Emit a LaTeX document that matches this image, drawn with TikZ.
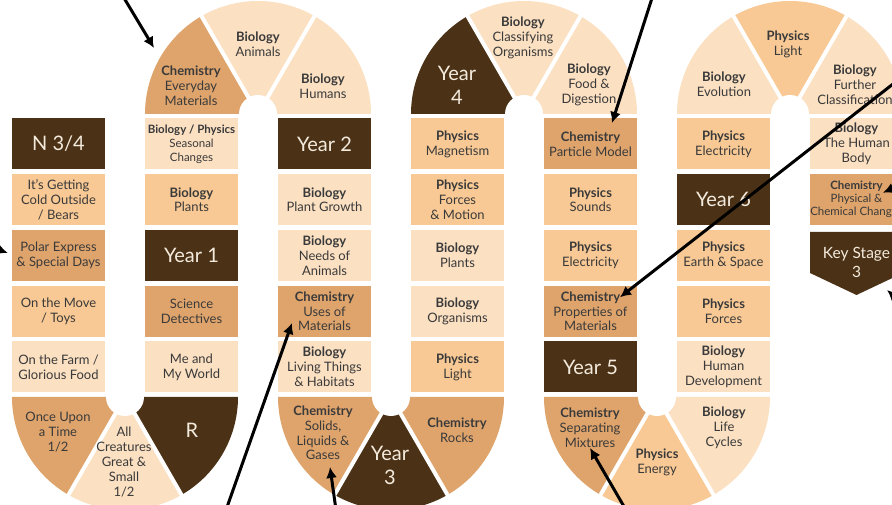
\documentclass[tikz,border=0pt]{standalone}
\usepackage{fontspec}
\setmainfont{Lato}
\usetikzlibrary{arrows.meta}

\definecolor{cdark}{HTML}{4B3217}
\definecolor{ctan}{HTML}{DFA46C}
\definecolor{cmid}{HTML}{F8C994}
\definecolor{cpale}{HTML}{FBE0C2}
\definecolor{ctext}{HTML}{3A3A3A}
\definecolor{clite}{HTML}{F4EBDD}

\begin{document}
\begin{tikzpicture}[x=1pt, y=1pt,
  box/.style={minimum width=93pt, minimum height=51pt, inner sep=0pt, align=center,
    text=ctext, font=\fontsize{13}{14.8}\selectfont},
  dk/.style={box, fill=cdark, text=clite, font=\fontsize{20}{24}\selectfont},
  tn/.style={box, fill=ctan},
  md/.style={box, fill=cmid},
  pl/.style={box, fill=cpale},
  lbl/.style={align=center, text=ctext, inner sep=0pt, font=\fontsize{13}{14.8}\selectfont},
  big/.style={align=center, text=clite, inner sep=0pt, font=\fontsize{20}{24}\selectfont},
  sep/.style={white, line width=4pt},
  arr/.style={-{Latex[length=11pt,width=11pt]}, line width=3pt}]
  \clip (0,0) rectangle (892,505);

  % bends
  \fill[ctan] (125,108) -- +(180:113) arc[start angle=180, end angle=240, radius=113] -- cycle;
  \fill[cpale] (125,108) -- +(240:113) arc[start angle=240, end angle=300, radius=113] -- cycle;
  \fill[cdark] (125,108) -- +(300:113) arc[start angle=300, end angle=360, radius=113] -- cycle;
  \draw[sep] (125,108) -- +(240:120) (125,108) -- +(300:120);
  \fill[white] (125,108) circle (19);

  \fill[ctan] (258,391) -- +(180:113) arc[start angle=180, end angle=120, radius=113] -- cycle;
  \fill[cpale] (258,391) -- +(120:113) arc[start angle=120, end angle=60, radius=113] -- cycle;
  \fill[cpale] (258,391) -- +(60:113) arc[start angle=60, end angle=0, radius=113] -- cycle;
  \draw[sep] (258,391) -- +(120:120) (258,391) -- +(60:120);
  \fill[white] (258,391) circle (19);

  \fill[ctan] (391,108) -- +(180:113) arc[start angle=180, end angle=240, radius=113] -- cycle;
  \fill[cdark] (391,108) -- +(240:113) arc[start angle=240, end angle=300, radius=113] -- cycle;
  \fill[ctan] (391,108) -- +(300:113) arc[start angle=300, end angle=360, radius=113] -- cycle;
  \draw[sep] (391,108) -- +(240:120) (391,108) -- +(300:120);
  \fill[white] (391,108) circle (19);

  \fill[cdark] (524,391) -- +(180:113) arc[start angle=180, end angle=120, radius=113] -- cycle;
  \fill[cpale] (524,391) -- +(120:113) arc[start angle=120, end angle=60, radius=113] -- cycle;
  \fill[cpale] (524,391) -- +(60:113) arc[start angle=60, end angle=0, radius=113] -- cycle;
  \draw[sep] (524,391) -- +(120:120) (524,391) -- +(60:120);
  \fill[white] (524,391) circle (19);

  \fill[ctan] (657,108) -- +(180:113) arc[start angle=180, end angle=240, radius=113] -- cycle;
  \fill[cmid] (657,108) -- +(240:113) arc[start angle=240, end angle=300, radius=113] -- cycle;
  \fill[cpale] (657,108) -- +(300:113) arc[start angle=300, end angle=360, radius=113] -- cycle;
  \draw[sep] (657,108) -- +(240:120) (657,108) -- +(300:120);
  \fill[white] (657,108) circle (19);

  \fill[cpale] (790,391) -- +(180:113) arc[start angle=180, end angle=120, radius=113] -- cycle;
  \fill[cmid] (790,391) -- +(120:113) arc[start angle=120, end angle=60, radius=113] -- cycle;
  \fill[cpale] (790,391) -- +(60:113) arc[start angle=60, end angle=0, radius=113] -- cycle;
  \draw[sep] (790,391) -- +(120:120) (790,391) -- +(60:120);
  \fill[white] (790,391) circle (19);

  \node[lbl] (onceupon) at (58,73) {Once Upon\\a Time\\1/2};
  \node[lbl] (creatures) at (124,43) {All\\Creatures\\Great \&\\Small\\1/2};
  \node[big] (rec) at (192,75) {R};
  \node[lbl] (everyday) at (191,419) {\textbf{Chemistry}\\Everyday\\Materials};
  \node[lbl] (animals) at (258,461) {\textbf{Biology}\\Animals};
  \node[lbl] (humans) at (323,419) {\textbf{Biology}\\Humans};
  \node[lbl] (solids) at (323,72) {\textbf{Chemistry}\\Solids,\\Liquids \&\\Gases};
  \node[big] (yr3) at (390,40) {Year\\3};
  \node[lbl] (rocks) at (457,75) {\textbf{Chemistry}\\Rocks};
  \node[big] (yr4) at (457,420) {Year\\4};
  \node[lbl] (classifying) at (523,467) {\textbf{Biology}\\Classifying\\Organisms};
  \node[lbl] (digestion) at (589,420) {\textbf{Biology}\\Food \&\\Digestion};
  \node[lbl] (separating) at (590,77) {\textbf{Chemistry}\\Separating\\Mixtures};
  \node[lbl] (energy) at (657,43) {\textbf{Physics}\\Energy};
  \node[lbl] (lifecycles) at (724,77) {\textbf{Biology}\\Life\\Cycles};
  \node[lbl] (evolution) at (724,421) {\textbf{Biology}\\Evolution};
  \node[lbl] (light6) at (788,461) {\textbf{Physics}\\Light};
  \node[lbl] (further) at (855,420) {\textbf{Biology}\\Further\\Classification};

  % nursery
  \node[dk] (n34) at (58.5,361) {N 3/4};
  \node[md] (cold) at (58.5,305.25) {It's Getting\\Cold Outside\\/ Bears};
  \node[tn] (polar) at (58.5,249.5) {Polar Express\\\& Special Days};
  \node[md] (move) at (58.5,193.75) {On the Move\\/ Toys};
  \node[pl] (farm) at (58.5,138) {On the Farm /\\Glorious Food};

  \node[pl, font=\fontsize{11.5}{14}\selectfont] (seasonal) at (191.5,361) {\textbf{Biology / Physics}\\Seasonal\\Changes};
  \node[md] (plants1) at (191.5,305.25) {\textbf{Biology}\\Plants};
  \node[dk] (yr1) at (191.5,249.5) {Year 1};
  \node[tn] (detectives) at (191.5,193.75) {Science\\Detectives};
  \node[pl] (myworld) at (191.5,138) {Me and\\My World};

  \node[dk] (yr2) at (324.5,361) {Year 2};
  \node[pl] (growth) at (324.5,305.25) {\textbf{Biology}\\Plant Growth};
  \node[pl] (needs) at (324.5,249.5) {\textbf{Biology}\\Needs of\\Animals};
  \node[tn] (uses) at (324.5,193.75) {\textbf{Chemistry}\\Uses of\\Materials};
  \node[pl] (habitats) at (324.5,138) {\textbf{Biology}\\Living Things\\\& Habitats};

  \node[md] (magnetism) at (457.5,361) {\textbf{Physics}\\Magnetism};
  \node[md] (forces4) at (457.5,305.25) {\textbf{Physics}\\Forces\\\& Motion};
  \node[pl] (plants4) at (457.5,249.5) {\textbf{Biology}\\Plants};
  \node[pl] (organisms) at (457.5,193.75) {\textbf{Biology}\\Organisms};
  \node[md] (light4) at (457.5,138) {\textbf{Physics}\\Light};

  \node[tn] (particle) at (590.5,361) {\textbf{Chemistry}\\Particle Model};
  \node[md] (sounds) at (590.5,305.25) {\textbf{Physics}\\Sounds};
  \node[md] (elec5) at (590.5,249.5) {\textbf{Physics}\\Electricity};
  \node[tn] (props) at (590.5,193.75) {\textbf{Chemistry}\\Properties of\\Materials};
  \node[dk] (yr5) at (590.5,138) {Year 5};

  \node[md] (elec6) at (723.5,361) {\textbf{Physics}\\Electricity};
  \node[dk] (yr6) at (723.5,305.25) {Year 6};
  \node[md] (space) at (723.5,249.5) {\textbf{Physics}\\Earth \& Space};
  \node[md] (forces6) at (723.5,193.75) {\textbf{Physics}\\Forces};
  \node[pl] (humandev) at (723.5,138) {\textbf{Biology}\\Human\\Development};

  \node[pl] (body) at (856.5,361) {\textbf{Biology}\\The Human\\Body};
  \node[tn, font=\fontsize{11.5}{13}\selectfont] (changes) at (856.5,305.25) {\textbf{Chemistry}\\Physical \&\\Chemical Changes};
  \fill[cdark] (810,273) -- (903,273) -- (903,232) -- (856.5,210) -- (810,232) -- cycle;
  \node[big, font=\fontsize{15.5}{19}\selectfont] (ks3) at (856.5,243) {Key Stage\\3};

  % pointers
  \coordinate (t1) at (124,507);
  \coordinate (t2) at (-20,262);
  \coordinate (t3) at (226,-5);
  \coordinate (t4) at (336,-5);
  \coordinate (t5) at (653,510);
  \coordinate (t6) at (902,428);
  \coordinate (t7) at (905,322);
  \coordinate (t8) at (910,195);
  \coordinate (t9) at (626,-5);
  \draw[arr] (t1) -- ([shift={(-37,38)}]everyday.center);
  \draw[arr] (t2) -- ([shift={(-4,2.5)}]polar.west);
  \draw[arr] (t3) -- ([shift={(-32.5,-11.75)}]uses.center);
  \draw[arr] (t4) -- ([shift={(7,-34)}]solids.center);
  \draw[arr] (t5) -- ([shift={(21.5,21)}]particle.center);
  \draw[arr] (t6) -- ([shift={(29.5,14)}]props.center);
  \draw[arr] (t7) -- ([shift={(26.5,7)}]changes.center);
  \draw[arr] (t8) -- ([shift={(30.5,-28)}]ks3.center);
  \draw[arr] (t9) -- ([shift={(0,-20)}]separating.center);
\end{tikzpicture}
\end{document}
